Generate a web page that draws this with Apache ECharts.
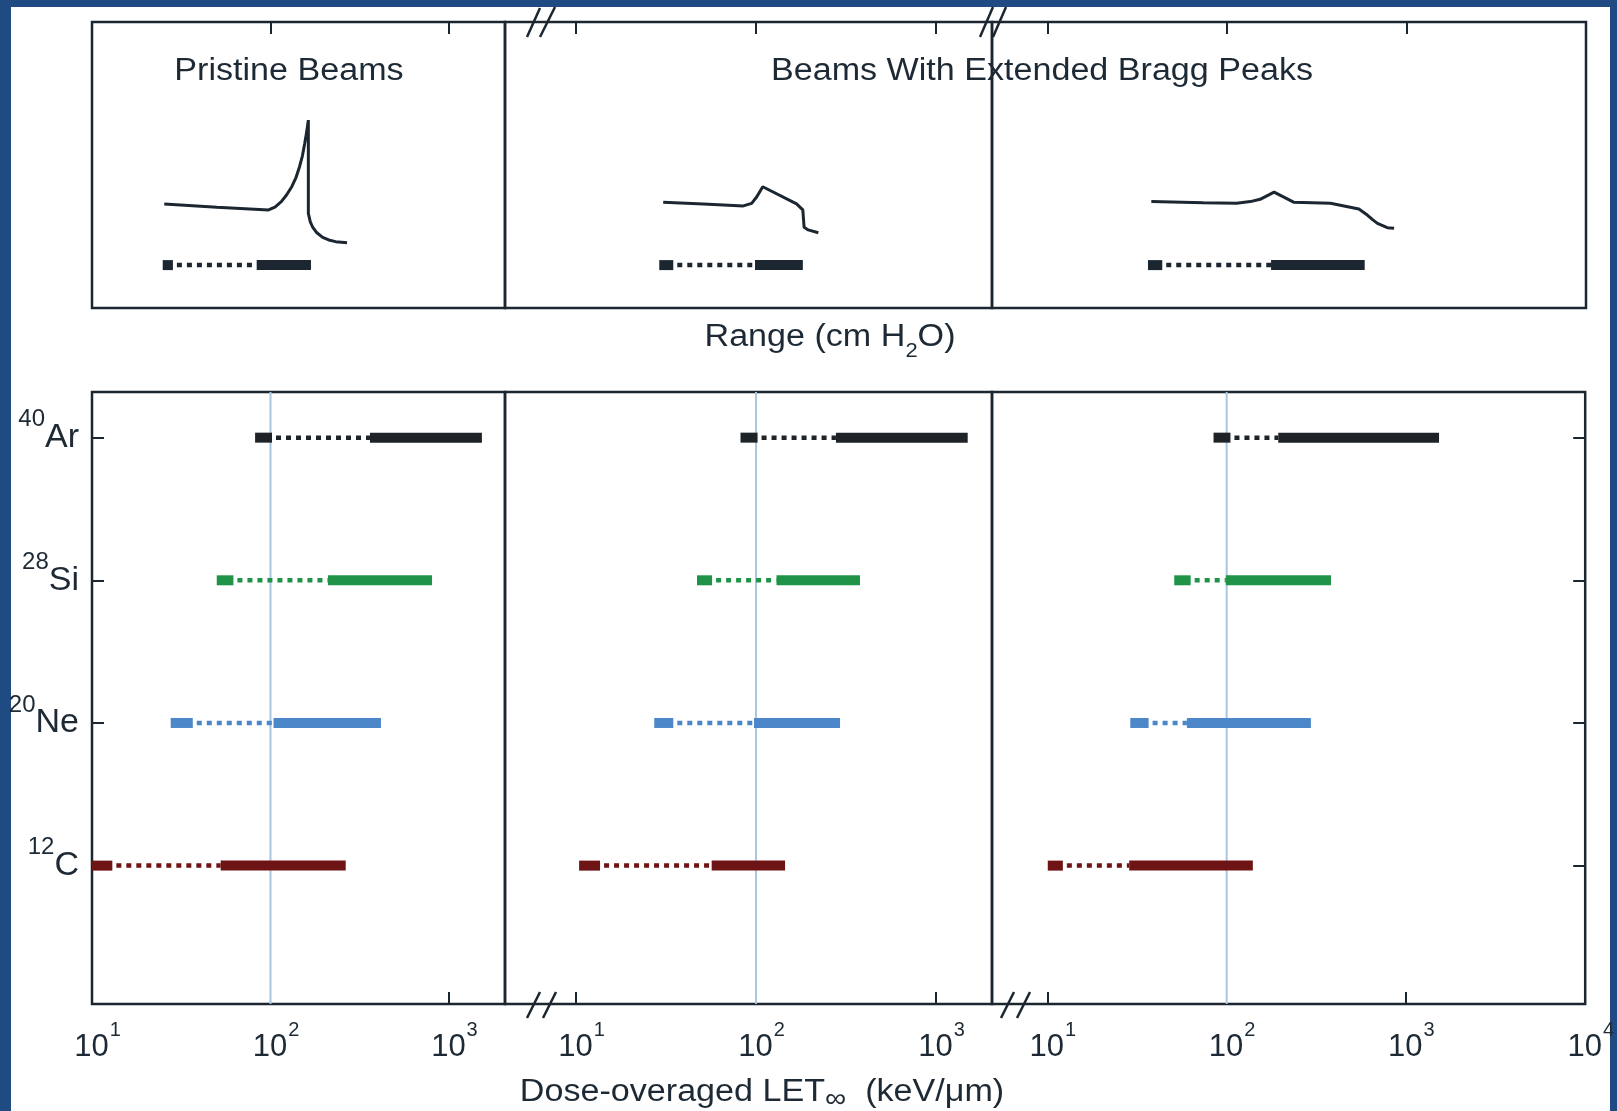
<!DOCTYPE html>
<html lang="en">

<head>
    <meta charset="UTF-8">
    <title>LET of pristine and extended Bragg peak beams</title>
    <script src="https://cdn.jsdelivr.net/npm/echarts@6/dist/echarts.min.js"></script>
    <style>
        html, body { margin: 0; padding: 0; background: #1f4a82; overflow: hidden; }
        #paper { position: absolute; left: 11px; top: 7px; width: 1599px; height: 1104px; background: #fff; }
        #main { position: absolute; left: 0; top: 0; width: 1617px; height: 1111px; }
    </style>
</head>

<body>
    <div id="paper"></div>
    <div id="main"></div>
    <script>
        // ions from bottom row to top row
        let ions = ['C', 'Ne', 'Si', 'Ar']
        let ionMass = ['12', '20', '28', '40']
        let ionRow = [1, 2, 3, 4]

        // LET (keV/um) per ion: [entrance start, entrance end, peak start, peak end]
        let letPristine = [[10, 13, 52.6, 264], [27.6, 36.7, 104, 416], [50, 62, 210, 804], [82, 102, 361, 1530]]
        let letExtendedA = [[10.4, 13.6, 56.7, 145], [27.2, 34.7, 97.5, 293], [47, 57, 130, 378], [82, 102, 278, 1500]]
        let letExtendedB = [[10.05, 12.2, 28.6, 140], [29, 36.7, 60, 295], [51, 63, 99, 382], [84.5, 105, 194, 1530]]

        // range bars under the depth-dose curves: [entrance start, entrance end, peak start, peak end]
        let rangeBars = [[24.9, 28.4, 83.7, 168.6], [29, 34.7, 98.7, 182], [36.3, 43.6, 176, 585]]
        let rangeBarLevel = 15

        // schematic depth-dose curves [range, relative dose]
        let dosePristine = [[25.4, 36.4], [50.1, 35.2], [97.5, 34.3], [106, 35.3], [115, 37.2], [123, 39.5], [131.6, 42.4], [139, 45.6],
            [145.5, 49.4], [151, 53.2], [155.6, 57.6], [159.5, 61.5], [163, 65.7],
            [163, 33.1], [167, 30.2], [171.9, 28.4], [182, 26.3], [196, 24.7], [212, 23.8], [231.7, 23.2], [268.5, 22.8]]
        let doseExtendedA = [[30.5, 37.0], [51, 36.4], [85, 35.7], [94.6, 36.6], [101, 38.9], [109, 42.4], [168, 36.4], [182, 34.3],
            [185, 28.2], [195, 27.3], [222, 26.3]]
        let doseExtendedB = [[37.9, 37.2], [73.7, 36.8], [113, 36.6], [135, 37.2], [153, 38.0], [183, 40.5], [235, 37.0], [377, 36.6],
            [543, 34.6], [605, 32.5], [650, 30.8], [689, 29.6], [782, 28.1], [853, 27.9]]

        // axes
        let letMin = [10, 4.03, 4.91]
        let letMax = [2061, 2047, 10000]
        let topTicks = [[10, 100, 1000], [10, 100, 1000], [10, 100, 1000, 10000]]
        let bottomTicks = [[10, 1000], [10, 1000], [10, 1000, 10000]]
        let labelTicks = [[10, 100, 1000], [10, 100, 1000], [10, 100, 1000, 10000]]
        let refLet = 100
        let rowMin = 0.03
        let rowMax = 4.32
    </script>
    <script>
        var chartDom = document.getElementById('main');
        var myChart = echarts.init(chartDom, null, { renderer: 'canvas' });
        var option;

        var font = 'Liberation Sans, Arial, sans-serif';
        var ink = '#1b2631';
        var textInk = '#1d2a35';
        var ionColors = ['#6e1414', '#4b87c9', '#1f9448', '#1e2328'];
        var panelLeft = [92, 505, 992];
        var panelWidth = [413, 487, 594];

        function renderSegments(params, api) {
            var y = api.value(0);
            var a = api.coord([api.value(1), y]);
            var b = api.coord([api.value(2), y]);
            var c = api.coord([api.value(3), y]);
            var d = api.coord([api.value(4), y]);
            var color = api.visual('color');
            return {
                type: 'group',
                children: [
                    { type: 'rect', shape: { x: a[0], y: a[1] - 5, width: b[0] - a[0], height: 10 }, style: { fill: color } },
                    { type: 'line', shape: { x1: b[0] + 4, y1: b[1], x2: c[0], y2: c[1] }, style: { stroke: color, lineWidth: 4.5, lineDash: [5, 5] } },
                    { type: 'rect', shape: { x: c[0], y: c[1] - 5, width: d[0] - c[0], height: 10 }, style: { fill: color } }
                ]
            };
        }

        var grids = [];
        var xAxes = [];
        var yAxes = [];
        var series = [];
        var letSets = [letPristine, letExtendedA, letExtendedB];
        var doseSets = [dosePristine, doseExtendedA, doseExtendedB];

        for (let p = 0; p < 3; p++) {
            grids.push({ left: panelLeft[p], top: 22, width: panelWidth[p], height: 286, show: true, borderColor: ink, borderWidth: 2.5 });
        }
        for (let p = 0; p < 3; p++) {
            grids.push({ left: panelLeft[p], top: 392, width: panelWidth[p], height: 612, show: true, borderColor: ink, borderWidth: 2.5 });
        }

        for (let p = 0; p < 3; p++) {
            // top panel: range axis, ticks only
            xAxes.push({
                type: 'log', gridIndex: p, position: 'top', min: letMin[p], max: letMax[p],
                axisLine: { show: false, onZero: false }, splitLine: { show: false }, axisLabel: { show: false },
                axisTick: { show: true, inside: true, length: 12, lineStyle: { color: ink, width: 2 }, customValues: topTicks[p] }
            });
            yAxes.push({ type: 'value', gridIndex: p, min: 0, max: 100, show: false });
        }
        for (let p = 0; p < 3; p++) {
            xAxes.push({
                type: 'log', gridIndex: 3 + p, position: 'bottom', min: letMin[p], max: letMax[p],
                axisLine: { show: false, onZero: false }, splitLine: { show: false },
                axisTick: { show: true, inside: true, length: 12, lineStyle: { color: ink, width: 2 }, customValues: bottomTicks[p] },
                axisLabel: {
                    customValues: labelTicks[p],
                    margin: 28,
                    padding: [0, 0, 0, 11],
                    formatter: function (value) {
                        return '{m|10}{s|' + Math.round(Math.log10(value)) + '}';
                    },
                    rich: {
                        m: { fontFamily: font, fontSize: 31, lineHeight: 31, color: textInk },
                        s: { fontFamily: font, fontSize: 20, lineHeight: 20, color: textInk, padding: [0, 0, 34, 1] }
                    }
                }
            });
            yAxes.push({
                type: 'value', gridIndex: 3 + p, min: rowMin, max: rowMax,
                axisLine: { show: false, onZero: false }, splitLine: { show: false },
                axisTick: { show: p === 0, inside: true, length: 12, lineStyle: { color: ink, width: 2 }, customValues: ionRow },
                axisLabel: {
                    show: p === 0,
                    customValues: ionRow,
                    margin: 13,
                    formatter: function (value) {
                        var i = ionRow.indexOf(Math.round(value));
                        return '{s|' + ionMass[i] + '}{m|' + ions[i] + '}';
                    },
                    rich: {
                        m: { fontFamily: font, fontSize: 34, lineHeight: 34, color: textInk },
                        s: { fontFamily: font, fontSize: 24, lineHeight: 24, color: textInk, padding: [0, 0, 36, 0] }
                    }
                }
            });
        }
        // row ticks on the right edge
        yAxes.push({
            type: 'value', gridIndex: 5, position: 'right', min: rowMin, max: rowMax,
            axisLine: { show: false, onZero: false }, splitLine: { show: false }, axisLabel: { show: false },
            axisTick: { show: true, inside: true, length: 12, lineStyle: { color: ink, width: 2 }, customValues: ionRow }
        });

        for (let p = 0; p < 3; p++) {
            series.push({
                type: 'line', xAxisIndex: p, yAxisIndex: p, data: doseSets[p],
                symbol: 'none', lineStyle: { color: ink, width: 3 }, silent: true, z: 3
            });
            series.push({
                type: 'custom', xAxisIndex: p, yAxisIndex: p, renderItem: renderSegments,
                encode: { x: [1, 2, 3, 4], y: 0 }, silent: true, z: 3,
                data: [{ value: [rangeBarLevel].concat(rangeBars[p]), itemStyle: { color: ink } }]
            });
            series.push({
                type: 'line', xAxisIndex: 3 + p, yAxisIndex: 3 + p, data: [[refLet, rowMin], [refLet, rowMax]],
                symbol: 'none', lineStyle: { color: '#a9c6df', width: 2 }, silent: true, z: 1
            });
            series.push({
                type: 'custom', xAxisIndex: 3 + p, yAxisIndex: 3 + p, renderItem: renderSegments,
                encode: { x: [1, 2, 3, 4], y: 0 }, silent: true, z: 3,
                data: ions.map(function (name, i) {
                    return { value: [ionRow[i]].concat(letSets[p][i]), itemStyle: { color: ionColors[i] } };
                })
            });
        }

        function slash(x1, y1, x2, y2) {
            return { type: 'line', shape: { x1: x1, y1: y1, x2: x2, y2: y2 }, style: { stroke: ink, lineWidth: 2.5 }, z: 10 };
        }

        function caption(text, x, y, rich) {
            return {
                type: 'text', x: x, y: y, scaleX: 1.1,
                style: { text: text, font: '31px ' + font, fill: textInk, align: 'center', verticalAlign: 'middle', rich: rich || {} }
            };
        }

        option = {
            animation: false,
            grid: grids,
            xAxis: xAxes,
            yAxis: yAxes,
            series: series,
            graphic: [
                caption('Pristine Beams', 289, 71),
                caption('Beams With Extended Bragg Peaks', 1042, 71),
                caption('Range (cm H{b|2}O)', 830, 337,
                    { b: { fontFamily: font, fontSize: 20, lineHeight: 20, fill: textInk, padding: [28, 0, 0, 0] } }),
                caption('Dose-overaged LET{b|∞}  (keV/μm)', 762, 1092,
                    { b: { fontFamily: font, fontSize: 27, lineHeight: 27, fill: textInk, padding: [16, 0, 0, 0] } }),
                slash(527, 37, 540, 8), slash(540, 37, 555, 7),
                slash(980, 37, 993, 7), slash(993, 37, 1006, 7),
                slash(527, 1018, 540, 992), slash(543, 1018, 556, 992),
                slash(1001, 1018, 1014, 992), slash(1017, 1018, 1030, 992)
            ]
        };

        option && myChart.setOption(option);
    </script>
</body>

</html>
